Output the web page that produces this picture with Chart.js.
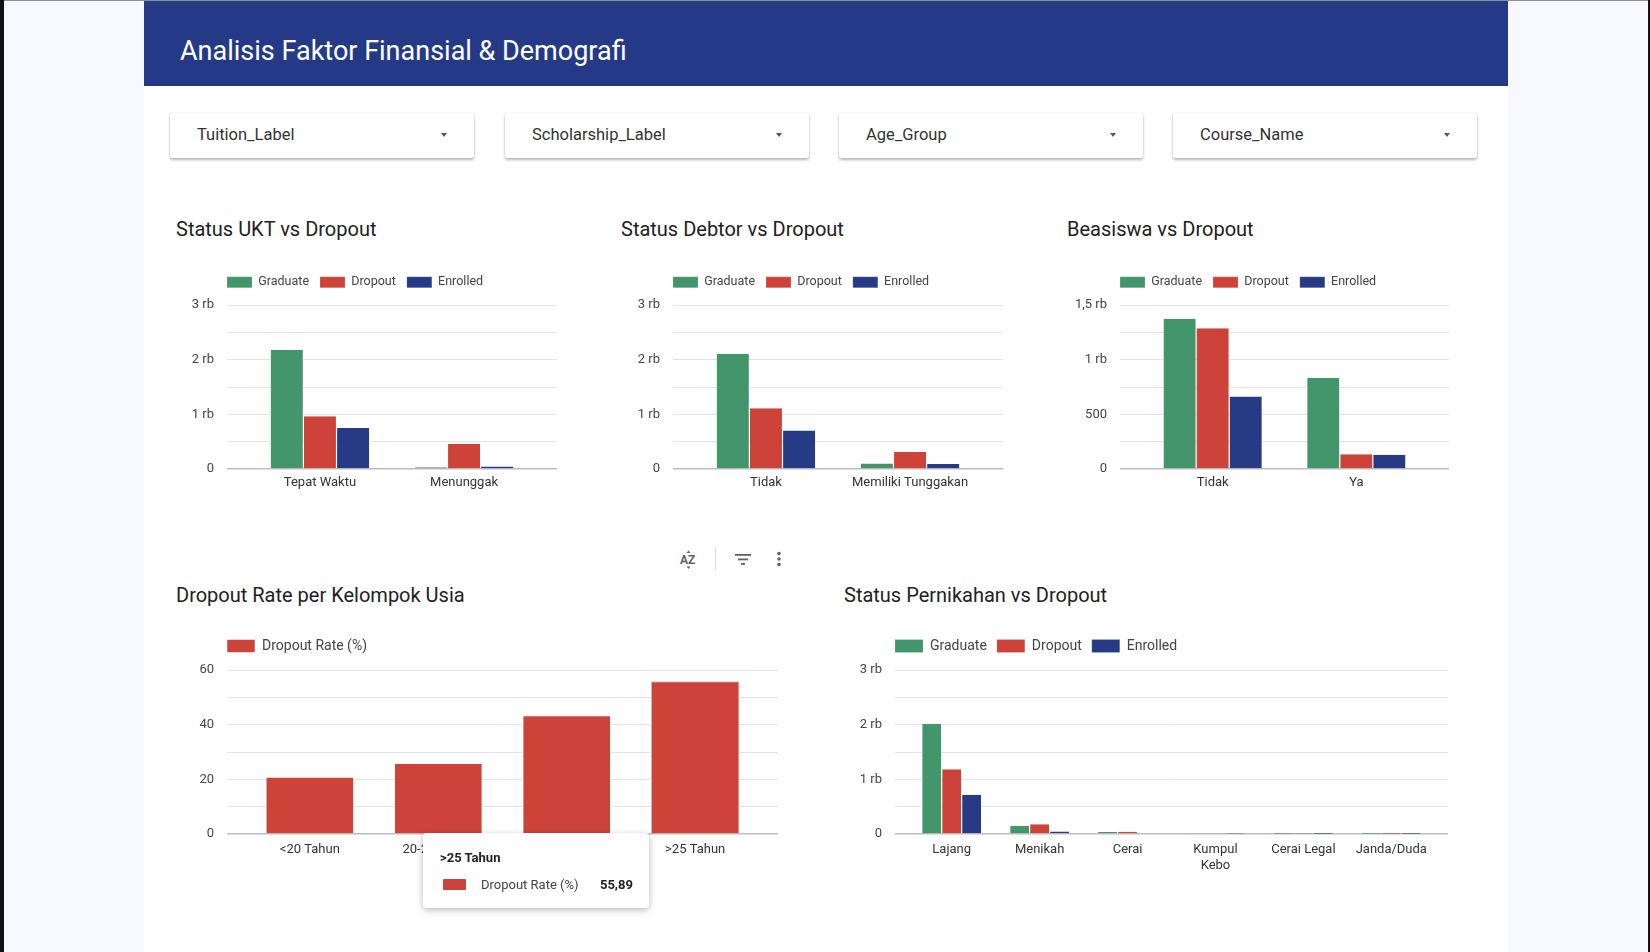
<!DOCTYPE html>
<html>
<head>
<meta charset="utf-8">
<script src="https://cdn.jsdelivr.net/npm/chart.js@4.4.1/dist/chart.umd.min.js"></script>
<style>
html,body{margin:0;padding:0;}
body{width:1650px;height:952px;background:#f8f9fe;position:relative;overflow:hidden;font-family:Roboto,"Noto Sans",sans-serif;}
#topline{position:absolute;left:0;top:0;width:1650px;height:1px;background:#8f8f8f;z-index:5;}
#lstrip{position:absolute;left:0;top:0;width:4px;height:952px;background:#121212;z-index:5;}
#rstrip{position:absolute;right:0;top:0;width:2px;height:952px;background:#121212;z-index:5;}
#page{position:absolute;left:144px;top:0;width:1364px;height:952px;background:#fff;}
#header{position:absolute;left:144px;top:1px;width:1364px;height:85px;background:#253a86;}
#header h1{position:absolute;left:36px;top:34px;margin:0;font-weight:400;font-size:27px;line-height:32px;color:#fff;white-space:nowrap;}
.dd{position:absolute;top:113px;width:304px;height:45px;background:#fff;border-radius:2px;box-shadow:0 2px 3px rgba(0,0,0,.28),0 0 1px rgba(0,0,0,.25);}
.dd span{position:absolute;left:27px;top:11px;font-size:16.5px;line-height:21px;color:#333;}
.dd i{position:absolute;right:27px;top:20px;width:0;height:0;border-left:3px solid transparent;border-right:3px solid transparent;border-top:4px solid #555;}
.title{position:absolute;font-size:20px;line-height:24px;color:#212121;white-space:nowrap;}
canvas{position:absolute;}
#tip{position:absolute;left:423px;top:833px;width:226px;height:75px;background:#fff;border-radius:4px;box-shadow:0 2px 7px rgba(0,0,0,.28);z-index:4;}
#tipTitle{position:absolute;left:17px;top:16px;font-size:13px;font-weight:700;color:#222;line-height:17px;}
#tipSw{position:absolute;left:20px;top:46px;width:23px;height:11px;background:#cd4339;border-radius:1px;}
#tipLab{position:absolute;left:58px;top:43px;font-size:13px;color:#444;line-height:17px;}
#tipVal{position:absolute;right:16px;top:43px;font-size:13px;font-weight:700;color:#222;line-height:17px;}
#icons{position:absolute;left:670px;top:546px;width:130px;height:26px;}
</style>
</head>
<body>
<div id="page"></div>
<div id="header"><h1>Analisis Faktor Finansial &amp; Demografi</h1></div>
<div id="topline"></div><div id="lstrip"></div><div id="rstrip"></div>

<div class="dd" style="left:170px"><span>Tuition_Label</span><i></i></div>
<div class="dd" style="left:505px"><span>Scholarship_Label</span><i></i></div>
<div class="dd" style="left:839px"><span>Age_Group</span><i></i></div>
<div class="dd" style="left:1173px"><span>Course_Name</span><i></i></div>

<div class="title" style="left:176px;top:217px">Status UKT vs Dropout</div>
<div class="title" style="left:621px;top:217px">Status Debtor vs Dropout</div>
<div class="title" style="left:1067px;top:217px">Beasiswa vs Dropout</div>
<div class="title" style="left:176px;top:583px">Dropout Rate per Kelompok Usia</div>
<div class="title" style="left:844px;top:583px">Status Pernikahan vs Dropout</div>

<svg id="icons" width="130" height="26" viewBox="0 0 130 26">
  <g fill="#5f6368" font-family="Roboto, sans-serif" font-weight="700" font-size="12">
    <text x="10" y="18">AZ</text>
    <path d="M16.5 7 L18.5 4.5 L20.5 7 Z"/>
    <path d="M16.5 20.5 L18.5 23 L20.5 20.5 Z"/>
  </g>
  <rect x="45" y="1" width="1" height="23" fill="#dadce0"/>
  <g fill="#5f6368">
    <rect x="65" y="8" width="16" height="1.8"/>
    <rect x="68" y="12.5" width="10" height="1.8"/>
    <rect x="71" y="17" width="4" height="1.8"/>
    <circle cx="109" cy="7.5" r="1.8"/>
    <circle cx="109" cy="13" r="1.8"/>
    <circle cx="109" cy="18.5" r="1.8"/>
  </g>
</svg>

<canvas id="c1" width="400" height="236" style="left:170px;top:265px"></canvas>
<canvas id="c2" width="400" height="236" style="left:616px;top:265px"></canvas>
<canvas id="c3" width="400" height="236" style="left:1063px;top:265px"></canvas>
<canvas id="c4" width="620" height="250" style="left:170px;top:629px"></canvas>
<canvas id="c5" width="620" height="250" style="left:838px;top:629px"></canvas>

<div id="tip"><div id="tipTitle"></div><div id="tipSw"></div><div id="tipLab"></div><div id="tipVal"></div></div>

<script>
// ---------- DATA ----------
const statusSeries = ['Graduate', 'Dropout', 'Enrolled'];

const uktCategories = ['Tepat Waktu', 'Menunggak'];
const uktGraduate = [2180, 33];
const uktDropout = [964, 457];
const uktEnrolled = [752, 45];

const debtorCategories = ['Tidak', 'Memiliki Tunggakan'];
const debtorGraduate = [2108, 101];
const debtorDropout = [1109, 312];
const debtorEnrolled = [704, 90];

const scholarshipCategories = ['Tidak', 'Ya'];
const scholarshipGraduate = [1374, 835];
const scholarshipDropout = [1287, 134];
const scholarshipEnrolled = [664, 130];

const ageSeries = 'Dropout Rate (%)';
const ageCategories = ['<20 Tahun', '20-22 Tahun', '23-25 Tahun', '>25 Tahun'];
const ageDropoutRate = [20.9, 26.0, 43.4, 55.89];

const maritalCategories = ['Lajang', 'Menikah', 'Cerai', ['Kumpul', 'Kebo'], 'Cerai Legal', 'Janda/Duda'];
const maritalGraduate = [2015, 152, 36, 10, 1, 2];
const maritalDropout = [1184, 179, 42, 11, 4, 1];
const maritalEnrolled = [720, 48, 13, 4, 1, 1];

const countTickValues = [0, 1000, 2000, 3000];
const countTickLabels = ['0', '1 rb', '2 rb', '3 rb'];
const scholarshipTickValues = [0, 500, 1000, 1500];
const scholarshipTickLabels = ['0', '500', '1 rb', '1,5 rb'];
const rateTickValues = [0, 20, 40, 60];
const rateTickLabels = ['0', '20', '40', '60'];

// ---------- STYLE ----------
const COLORS = ['#43956b', '#cd4339', '#263a86'];
const CATEGORY_INSET = 0.145; // extra outer padding of the category band, in category units
Chart.defaults.font.family = 'Roboto, "Noto Sans", sans-serif';
Chart.defaults.color = '#444';

const legendAlign = {
  id: 'legendAlign',
  beforeLayout(chart, args, opts) {
    const lg = chart.legend;
    if (lg && !lg._patched) {
      const orig = lg.fit;
      lg.fit = function () { orig.call(this); this.height = opts.height; };
      lg._patched = true;
    }
  },
  afterLayout(chart) {
    const lg = chart.legend;
    if (lg) lg.left = chart.chartArea.left - lg.options.labels.padding;
  }
};

function tickLabeler(values, labels) {
  return (v) => { const i = values.indexOf(v); return i >= 0 ? labels[i] : ''; };
}

const SIDE_BORDER = { top: 0, bottom: 0, left: 0.6, right: 0.6 };

function makeChart(id, cfg) {
  const small = cfg.small;
  return new Chart(document.getElementById(id), {
    type: 'bar',
    data: { labels: cfg.labels, datasets: cfg.datasets },
    plugins: [legendAlign],
    options: {
      responsive: false,
      animation: false,
      events: [],
      layout: { padding: { right: cfg.padRight, top: 0, left: 0, bottom: 0 } },
      datasets: { bar: { categoryPercentage: cfg.catPct, barPercentage: cfg.barPct } },
      plugins: {
        tooltip: { enabled: false },
        legendAlign: { height: cfg.legendHeight },
        legend: {
          display: true, position: 'top', align: 'start',
          labels: {
            boxWidth: small ? 25 : 28, boxHeight: small ? 11 : 13, padding: small ? 11 : 10,
            color: '#444', font: { size: small ? 12.5 : 14 }
          }
        }
      },
      scales: {
        x: {
          grid: { display: false, drawTicks: false },
          border: { display: false },
          ticks: { padding: cfg.xPad, color: '#333', font: { size: 13 }, maxRotation: 0, autoSkip: false },
          afterBuildTicks: (s) => { s._startValue -= CATEGORY_INSET; s._valueRange += 2 * CATEGORY_INSET; },
          afterFit: (s) => { s.height = cfg.xHeight; }
        },
        y: {
          min: 0, max: cfg.max,
          grid: {
            drawTicks: false,
            color: (c) => (c.tick && c.tick.value === 0) ? '#bdbdbd' : '#e4e4e4',
            lineWidth: (c) => (c.tick && c.tick.value === 0) ? 1.4 : 1
          },
          border: { display: false },
          ticks: {
            stepSize: cfg.step, autoSkip: false, padding: 13, color: '#444',
            font: { size: 13 }, callback: cfg.tickCb
          },
          afterFit: (s) => { s.width = 57; }
        }
      }
    }
  });
}

function statusDatasets(g, d, e) {
  return [g, d, e].map((vals, i) => ({
    label: statusSeries[i], data: vals,
    backgroundColor: COLORS[i], borderColor: 'rgba(255,255,255,0.6)', borderWidth: SIDE_BORDER,
    borderSkipped: false
  }));
}

const topCommon = { small: true, legendHeight: 40, xHeight: 32, xPad: 6, catPct: 0.69, barPct: 1.0 };

makeChart('c1', Object.assign({}, topCommon, {
  labels: uktCategories, datasets: statusDatasets(uktGraduate, uktDropout, uktEnrolled),
  padRight: 13, max: 3000, step: 500, tickCb: tickLabeler(countTickValues, countTickLabels)
}));
makeChart('c2', Object.assign({}, topCommon, {
  labels: debtorCategories, datasets: statusDatasets(debtorGraduate, debtorDropout, debtorEnrolled),
  padRight: 13, max: 3000, step: 500, tickCb: tickLabeler(countTickValues, countTickLabels)
}));
makeChart('c3', Object.assign({}, topCommon, {
  labels: scholarshipCategories, datasets: statusDatasets(scholarshipGraduate, scholarshipDropout, scholarshipEnrolled),
  padRight: 14, max: 1500, step: 250, tickCb: tickLabeler(scholarshipTickValues, scholarshipTickLabels)
}));

makeChart('c4', {
  small: false, legendHeight: 41, xHeight: 45, xPad: 8, catPct: 1.0, barPct: 0.69,
  labels: ageCategories,
  datasets: [{
    label: ageSeries, data: ageDropoutRate, backgroundColor: COLORS[1],
    borderColor: ['rgba(255,255,255,0.5)', 'rgba(255,255,255,0.5)', 'rgba(255,255,255,0.5)', '#c4c4c4'],
    borderWidth: 1
  }],
  padRight: 12, max: 60, step: 10, tickCb: tickLabeler(rateTickValues, rateTickLabels)
});

makeChart('c5', {
  small: false, legendHeight: 41, xHeight: 45, xPad: 8, catPct: 0.68, barPct: 1.0,
  labels: maritalCategories, datasets: statusDatasets(maritalGraduate, maritalDropout, maritalEnrolled),
  padRight: 10, max: 3000, step: 500, tickCb: tickLabeler(countTickValues, countTickLabels)
});

// tooltip overlay (hover state in reference)
const hi = ageCategories.length - 1;
document.getElementById('tipTitle').textContent = ageCategories[hi];
document.getElementById('tipLab').textContent = ageSeries;
document.getElementById('tipVal').textContent = ageDropoutRate[hi].toFixed(2).replace('.', ',');
</script>
</body>
</html>
